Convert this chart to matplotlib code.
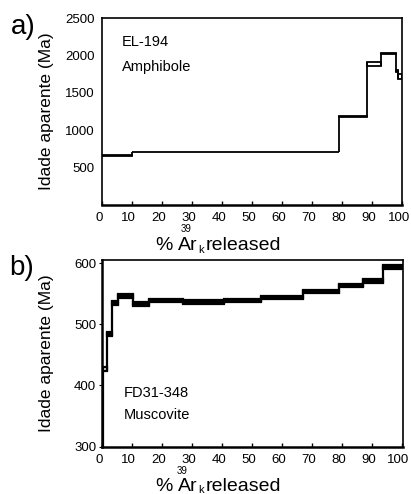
import matplotlib
matplotlib.use("Agg")
import matplotlib.pyplot as plt
from matplotlib.patches import Rectangle
import matplotlib.transforms as mtrans

plt.rcParams['font.family'] = ['Liberation Sans', 'DejaVu Sans']

# Panel a: EL-194 Amphibole (step edges in % 39Ar released, ages in Ma)
a_left = [0, 10.2, 79.2, 88.3, 93.2, 98.0, 98.7]
a_right = [10.2, 79.2, 88.3, 93.2, 98.0, 98.7, 100]
a_lo = [652, 703, 1180, 1860, 2020, 1785, 1685]
a_hi = [664, 715, 1192, 1917, 2038, 1810, 1760]
a_yticks = [500, 1000, 1500, 2000, 2500]

# Panel b: FD31-348 Muscovite
b_left = [0.0, 0.4, 1.9, 3.3, 5.3, 10.5, 15.9, 27.2, 40.9, 53.3, 67.2, 79.2, 87.2, 93.9]
b_right = [0.4, 1.9, 3.3, 5.3, 10.5, 15.9, 27.2, 40.9, 53.3, 67.2, 79.2, 87.2, 93.9, 100.5]
b_lo = [250, 423, 481, 532, 543, 530, 537, 533, 537, 542, 551, 561, 568, 590]
b_hi = [260, 431, 488, 538, 549, 536, 542, 539, 541, 546, 556, 566, 574, 597]
b_yticks = [300, 400, 500, 600]

x_ticks = [0, 10, 20, 30, 40, 50, 60, 70, 80, 90, 100]

W, H = 411, 494
fig = plt.figure(figsize=(W / 100, H / 100), dpi=100)


def frac(x0, y0, x1, y1):
    return [x0 / W, 1 - y1 / H, (x1 - x0) / W, (y1 - y0) / H]


def draw_spectrum(ax, left, right, lo, hi, lw, filled):
    for i in range(len(left)):
        fc = 'black' if (filled and (hi[i] - lo[i]) < 8) else 'none'
        ax.add_patch(Rectangle((left[i], lo[i]), right[i] - left[i], hi[i] - lo[i],
                               facecolor=fc, edgecolor='black', lw=lw, zorder=3))
        if i + 1 < len(left):
            ymin = min(lo[i], lo[i + 1])
            ymax = max(hi[i], hi[i + 1])
            ax.vlines(right[i], ymin, ymax, color='black', lw=lw, zorder=3)


def style(ax):
    for s in ax.spines.values():
        s.set_linewidth(1.2)
    ax.spines['bottom'].set_linewidth(1.8)
    ax.set_xticks(x_ticks)
    ax.tick_params(axis='x', direction='in', length=3, width=1, pad=5, labelsize=9.5)
    ax.tick_params(axis='y', labelsize=9.5)
    shift = mtrans.ScaledTranslation(-3 / 100, 0, fig.dpi_scale_trans)
    for lab in ax.get_xticklabels():
        lab.set_transform(lab.get_transform() + shift)


# ---- panel a
axa = fig.add_axes(frac(101.7, 18.3, 401.7, 205))
draw_spectrum(axa, a_left, a_right, a_lo, a_hi, 1.3, False)
axa.set_xlim(0, 100)
axa.set_ylim(0, 2500)
axa.set_yticks(a_yticks)
style(axa)
axa.tick_params(axis='y', length=0, pad=5)
axa.text(0.068, 0.873, 'EL-194', transform=axa.transAxes, fontsize=10.5, va='center')
axa.text(0.068, 0.739, 'Amphibole', transform=axa.transAxes, fontsize=10.5, va='center')
fig.text(46 / W, 1 - 111 / H, 'Idade aparente (Ma)', rotation=90, fontsize=12.5,
         ha='center', va='center')
fig.text(23 / W, 1 - 27 / H, 'a)', fontsize=20, ha='center', va='center')

# ---- panel b
axb = fig.add_axes(frac(101.7, 260, 403.3, 446.7))
draw_spectrum(axb, b_left, b_right, b_lo, b_hi, 1.6, True)
axb.set_xlim(0, 100.6)
axb.set_ylim(301, 605)
axb.set_yticks(b_yticks)
style(axb)
axb.spines['left'].set_linewidth(1.8)
axb.tick_params(axis='y', length=2, direction='out', pad=2)
axb.text(0.072, 0.286, 'FD31-348', transform=axb.transAxes, fontsize=10.5, va='center')
axb.text(0.072, 0.170, 'Muscovite', transform=axb.transAxes, fontsize=10.5, va='center')
fig.text(46 / W, 1 - 353 / H, 'Idade aparente (Ma)', rotation=90, fontsize=12.5,
         ha='center', va='center')
fig.text(22 / W, 1 - 268 / H, 'b)', fontsize=20, ha='center', va='center')


# ---- x labels (with displaced isotope notation as in the original)
def xlabel(base_y, sup_x, sup_y, k_y):
    fig.text(155 / W, 1 - base_y / H, '%', fontsize=14, ha='left', va='baseline')
    fig.text(sup_x / W, 1 - sup_y / H, '39', fontsize=7, ha='left', va='center')
    fig.text(178 / W, 1 - base_y / H, 'Ar', fontsize=14, ha='left', va='baseline')
    fig.text(198.5 / W, 1 - k_y / H, 'k', fontsize=8, ha='left', va='center')
    fig.text(206 / W, 1 - base_y / H, 'released', fontsize=14, ha='left', va='baseline')


xlabel(250, 181, 229, 250)
xlabel(491, 177, 471, 490)

fig.savefig('out.png', dpi=100)
